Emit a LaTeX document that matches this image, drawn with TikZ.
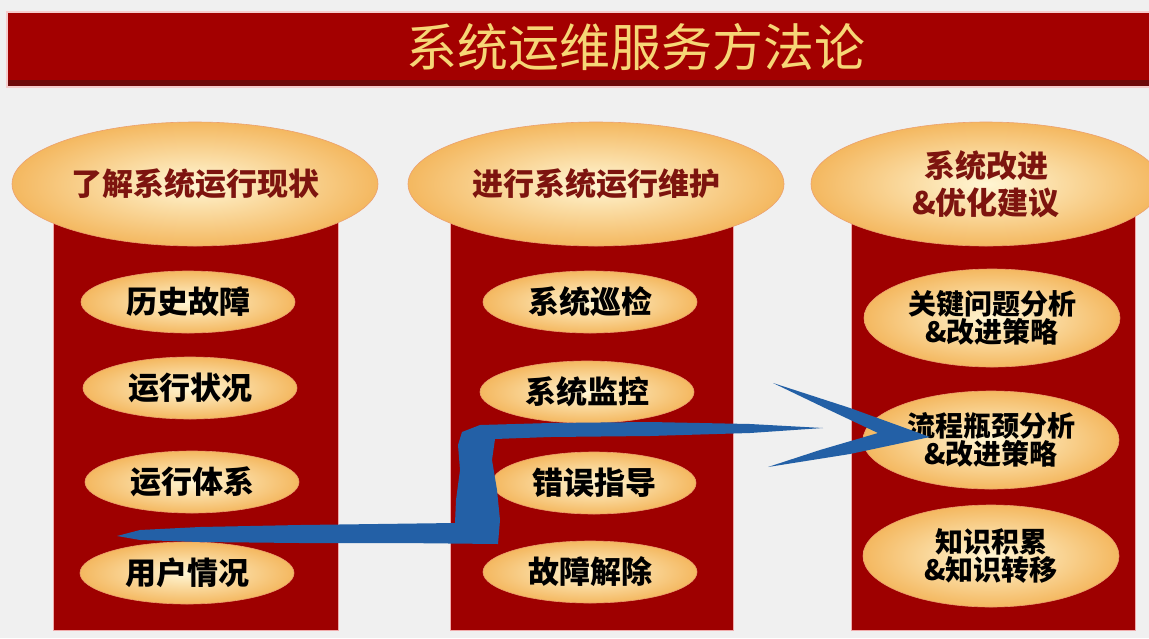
\documentclass[tikz,border=0pt]{standalone}
\usepackage{fontspec}
\newfontfamily\cjk{Noto Sans CJK SC}
\usetikzlibrary{shapes.geometric}
\definecolor{bgc}{RGB}{240,240,240}
\definecolor{barred}{RGB}{163,0,0}
\definecolor{bardark}{RGB}{110,10,10}
\definecolor{colred}{RGB}{158,0,0}
\definecolor{coledge}{RGB}{240,170,170}
\definecolor{creamin}{RGB}{255,246,212}
\definecolor{creamout}{RGB}{244,184,96}
\definecolor{elledge}{RGB}{236,160,110}
\definecolor{gold}{RGB}{246,214,118}
\definecolor{headtext}{RGB}{125,20,15}
\definecolor{arrowblue}{RGB}{35,96,166}
\begin{document}
\begin{tikzpicture}[x=1pt,y=-1pt,
  column/.style={fill=colred,draw=coledge,line width=0.8pt},
  bigell/.style={ellipse,shade,inner color=creamin,outer color=creamout,draw=elledge,line width=0.6pt,
     minimum width=366pt,minimum height=124pt,inner sep=0pt,align=center,
     font=\cjk\bfseries\fontsize{31}{37}\selectfont,text=headtext},
  smallell/.style={ellipse,shade,inner color=creamin,outer color=creamout,draw=elledge,line width=0.6pt,
     minimum width=214pt,minimum height=62pt,inner sep=0pt,align=center,
     font=\cjk\bfseries\fontsize{31}{33}\selectfont,text=black},
  wideell/.style={smallell,minimum width=256pt,minimum height=98pt,
     font=\cjk\bfseries\fontsize{28}{28}\selectfont}
]
\useasboundingbox (0,0) rectangle (1149,638);
\fill[bgc] (0,0) rectangle (1149,638);
% title bar
\fill[coledge!60] (6,11) rectangle (1149,88);
\fill[barred] (8,13) rectangle (1149,86);
\fill[bardark] (8,80) rectangle (1149,86);
\node[font=\cjk\fontsize{51}{54}\selectfont,text=gold,inner sep=0pt] (title) at (636,47) {系统运维服务方法论};
% columns
\fill[column] (53,215) rectangle (338,630);
\fill[column] (450,215) rectangle (733,630);
\fill[column] (851,215) rectangle (1135,630);
% top ellipses
\node[bigell] (h1) at (195,184) {了解系统运行现状};
\node[bigell,minimum width=376pt] (h2) at (596,184) {进行系统运行维护};
\node[bigell,minimum width=350pt] (h3) at (986,184) {系统改进\\\&优化建议};
% column 1
\node[smallell] (a1) at (188,302) {历史故障};
\node[smallell] (a2) at (190,388) {运行状况};
\node[smallell] (a3) at (192,482) {运行体系};
\node[smallell] (a4) at (187,573) {用户情况};
% column 2
\node[smallell] (b1) at (590,302) {系统巡检};
\node[smallell] (b2) at (587,392) {系统监控};
\node[smallell,minimum width=204pt] (b3) at (594,483) {错误指导};
\node[smallell] (b4) at (590,572) {故障解除};
% column 3
\node[wideell] (c1) at (992,318) {关键问题分析\\\&改进策略};
\node[wideell] (c2) at (991,440) {流程瓶颈分析\\\&改进策略};
\node[wideell,minimum height=102pt] (c3) at (991,556) {知识积累\\\&知识转移};
% blue arrow
\fill[arrowblue] (117,536) -- (140,530) -- (200,527) -- (300,525) -- (455,523)
  -- (456,500) -- (460,470) -- (458,445) -- (462,432)
  -- (480,425) -- (550,423) -- (650,422) -- (750,424) -- (823,428)
  -- (750,433) -- (650,436) -- (550,437) -- (495,439)
  -- (492,460) -- (497,490) -- (500,520) -- (498,544)
  -- (400,543) -- (300,543) -- (200,542) -- (140,540) -- cycle;
\fill[arrowblue] (773,383) -- (850,408) -- (930,437) -- (850,454) -- (768,467)
  -- (820,450) -- (878,433) -- (825,408) -- cycle;
\end{tikzpicture}
\end{document}
